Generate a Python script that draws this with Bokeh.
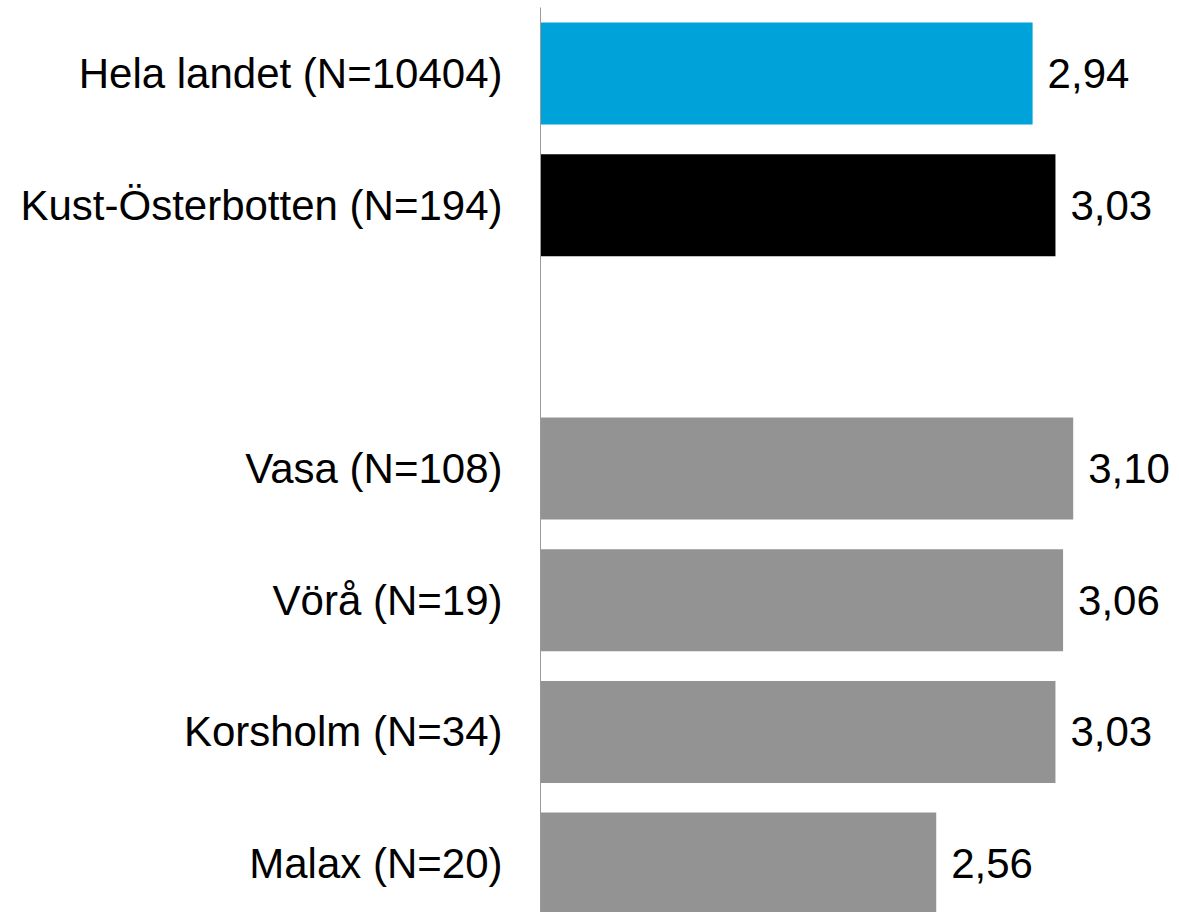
from bokeh.plotting import figure
from bokeh.models import Range1d, FixedTicker, ColumnDataSource
from bokeh.core.properties import value
from bokeh.embed import file_html
from bokeh.resources import INLINE

categories = ["Hela landet (N=10404)", "Kust-Österbotten (N=194)", "",
              "Vasa (N=108)", "Vörå (N=19)", "Korsholm (N=34)", "Malax (N=20)"]
values = [2.94, 3.03, None, 3.10, 3.06, 3.03, 2.56]
labels = ["2,94", "3,03", "", "3,10", "3,06", "3,03", "2,56"]
colors = ["#00A3D9", "#000000", "#FFFFFF", "#939393", "#939393", "#939393", "#939393"]

n = len(categories)
ypos = [n - 1 - i for i in range(n)]
keep = [i for i in range(n) if values[i] is not None]

src = ColumnDataSource(dict(
    y=[ypos[i] for i in keep],
    v=[values[i] for i in keep],
    lab=[labels[i] for i in keep],
    col=[colors[i] for i in keep],
))

BASE = 1.0

p = figure(width=1179, height=912, output_backend="svg", toolbar_location=None,
           x_range=Range1d(BASE, 3.519), y_range=Range1d(-0.371, 6.501),
           min_border_left=540, min_border_right=0, min_border_top=7, min_border_bottom=0)

p.hbar(y="y", left=BASE, right="v", height=0.775, color="col", line_color=None, source=src)
p.text(x="v", y="y", text="lab", source=src, x_offset=15, text_baseline="middle",
       text_align="left", text_font=value("Liberation Sans"), text_font_size="42px",
       text_color="#000000")

p.xaxis.visible = False
p.xgrid.visible = False
p.ygrid.visible = False
p.outline_line_color = None

ya = p.yaxis[0]
ya.ticker = FixedTicker(ticks=ypos)
ya.major_label_overrides = {ypos[i]: categories[i] for i in range(n)}
ya.major_label_text_font = "Liberation Sans"
ya.major_label_text_font_size = "42px"
ya.major_label_text_color = "#000000"
ya.major_tick_out = 0
ya.major_tick_in = 0
ya.minor_tick_out = 0
ya.minor_tick_in = 0
ya.major_label_standoff = 38
ya.axis_line_color = "#9a9a9a"
ya.axis_line_width = 1

open("out.html", "w").write(file_html(p, INLINE))
